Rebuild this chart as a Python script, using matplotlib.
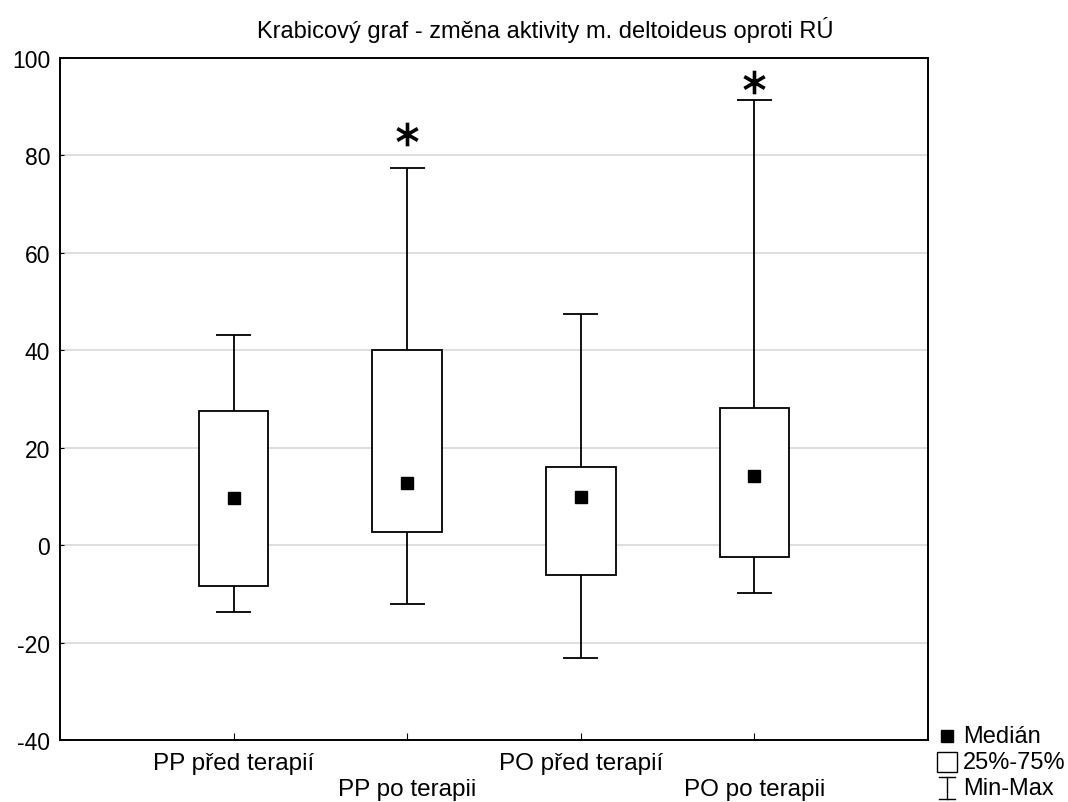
import matplotlib.pyplot as plt
from matplotlib.lines import Line2D
from matplotlib.path import Path

plt.rcParams['font.family'] = ['Liberation Sans', 'DejaVu Sans']

categories = ["PP před terapií", "PP po terapii", "PO před terapií", "PO po terapii"]
medians = [9.6, 12.7, 9.9, 14.2]
q1 = [-8.4, 2.7, -6.2, -2.5]
q3 = [27.5, 40.0, 16.0, 28.1]
mins = [-13.8, -12.1, -23.2, -9.9]
maxs = [43.1, 77.4, 47.4, 91.4]
# heights of the significance stars (None = no star)
star_y = [None, 84.4, None, 95.1]

# six-armed asterisk, one arm pointing straight up
STAR = Path([(0, -1), (0, 1), (-0.866, -0.5), (0.866, 0.5), (-0.866, 0.5), (0.866, -0.5)],
            [Path.MOVETO, Path.LINETO] * 3)


def grafico():
    fig = plt.figure(figsize=(10.68, 8.03), dpi=100)
    ax = fig.add_axes([60 / 1068, 1 - 741 / 803, 868 / 1068, 682 / 803])

    x = list(range(1, len(categories) + 1))

    # whiskers first, so the boxes sit on top of them
    ax.vlines(x, mins, maxs, color="black", linewidth=1.3, zorder=2)
    ax.hlines(mins, [i - 0.1 for i in x], [i + 0.1 for i in x], color="black", linewidth=1.3, zorder=2)
    ax.hlines(maxs, [i - 0.1 for i in x], [i + 0.1 for i in x], color="black", linewidth=1.3, zorder=2)
    heights = [b - a for a, b in zip(q1, q3)]
    ax.bar(x, heights, bottom=q1, width=0.4, facecolor="white", edgecolor="black", linewidth=1.3, zorder=3)
    ax.plot(x, medians, linestyle="none", marker="s", markersize=9, color="black", zorder=4)

    sx = [xi for xi, s in zip(x, star_y) if s is not None]
    sy = [s for s in star_y if s is not None]
    ax.plot(sx, sy, linestyle="none", marker=STAR, markersize=17, markeredgewidth=2.6,
            color="black", zorder=4, clip_on=False)

    ax.set_xlim(0, 5)
    ax.set_ylim(-40, 100)
    ax.set_yticks(range(-40, 101, 20))
    ax.set_yticklabels([str(v) for v in range(-40, 101, 20)], fontsize=16.5)
    ax.set_xticks(x)
    ax.set_xticklabels(categories, fontsize=17.5)
    for i, lab in enumerate(ax.get_xticklabels()):
        if i % 2 == 1:
            lab.set_y(-0.038)
    ax.tick_params(axis="x", direction="in", length=5, pad=9)
    ax.tick_params(axis="y", direction="in", length=3, pad=7)
    ax.yaxis.grid(True, color="#d8d8d8", linewidth=1.2)
    ax.set_axisbelow(True)
    for s in ax.spines.values():
        s.set_linewidth(1.4)

    fig.text(545 / 1068, 1 - 30 / 803, "Krabicový graf - změna aktivity m. deltoideus oproti RÚ",
             ha="center", va="center", fontsize=17)

    # legend drawn by hand in figure coordinates
    tf = fig.transFigure
    lx = 947 / 1068
    rows = [1 - 737 / 803, 1 - 763 / 803, 1 - 789 / 803]
    fig.add_artist(Line2D([lx], [rows[0]], marker="s", markersize=9, color="black", transform=tf))
    fig.add_artist(Line2D([lx], [rows[1]], marker="s", markersize=14, markerfacecolor="white",
                          markeredgecolor="black", markeredgewidth=1, transform=tf))
    cap = 8 / 1068
    top = rows[2] + 11 / 803
    bot = rows[2] - 11 / 803
    fig.add_artist(Line2D([lx, lx], [bot, top], color="black", linewidth=1, transform=tf))
    fig.add_artist(Line2D([lx - cap, lx + cap], [top, top], color="black", linewidth=1, transform=tf))
    fig.add_artist(Line2D([lx - cap, lx + cap], [bot, bot], color="black", linewidth=1, transform=tf))
    for y, txt in zip(rows, ["Medián", "25%-75%", "Min-Max"]):
        fig.text(963 / 1068, y, txt, ha="left", va="center", fontsize=17)

    fig.savefig("out.png", dpi=100)


if __name__ == "__main__":
    grafico()
